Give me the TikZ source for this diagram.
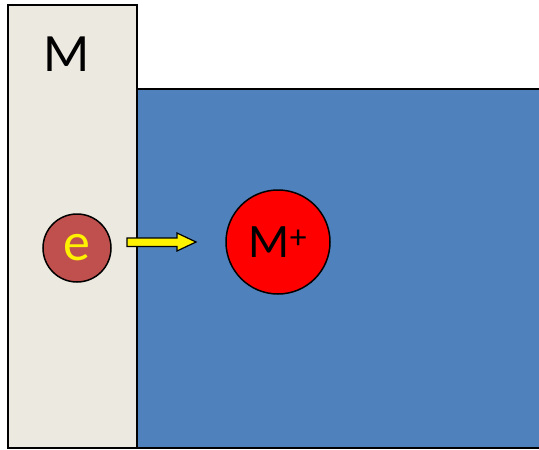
\documentclass[tikz,border=0pt]{standalone}
\usepackage{fontspec}
\setmainfont{Carlito}
\definecolor{metal}{HTML}{ECE9E0}
\definecolor{solution}{HTML}{4F81BD}
\definecolor{electron}{HTML}{C0504D}
\begin{document}
\begin{tikzpicture}[x=1pt,y=-1pt,
  outline/.style={draw=black,line width=1.5pt},
  particle/.style={circle,outline,inner sep=0pt},
  label/.style={font=\fontsize{54}{54}\selectfont},
  ionlabel/.style={font=\fontsize{48}{48}\selectfont}]
\useasboundingbox (0,0) rectangle (539,450);
% electrolyte
\fill[solution] (137,89) rectangle (539,448);
\draw[outline] (539,89) -- (137,89) (137,448) -- (539,448);
% metal electrode
\filldraw[fill=metal,outline] (8,5) rectangle (137,448);
\node[label,anchor=base] (M) at (67,71) {M};
% electron and ion
\node[particle,fill=electron,minimum size=68pt] (e) at (77,248) {};
\node[label,text=yellow] at (e) {e};
\node[particle,fill=red,minimum size=104pt] (ion) at (278,242) {};
\node[ionlabel] at (ion) {M\textsuperscript{+}};
% electron transfer arrow
\coordinate (a0) at (127,242);
\coordinate (a1) at (196,242);
\draw[outline,line width=1.2pt,fill=yellow]
  (127,238) -- (177,238) -- (177,233) -- (a1) -- (177,251) -- (177,246.5) -- (127,246.5) -- cycle;
\end{tikzpicture}
\end{document}
